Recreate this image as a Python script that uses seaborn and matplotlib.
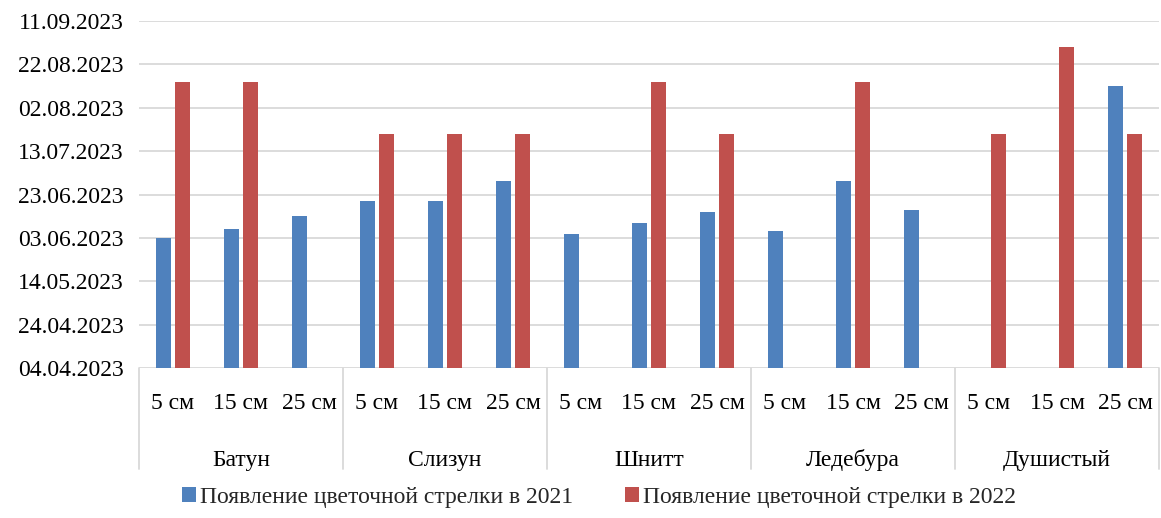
import pandas as pd
import numpy as np
import matplotlib
matplotlib.use('Agg')
import matplotlib.pyplot as plt
import matplotlib.dates as mdates
from matplotlib.patches import Patch
import seaborn as sns

# ================================
# Data
# ================================
groups = ['Батун', 'Слизун', 'Шнитт', 'Ледебура', 'Душистый']
depths = ['5 см', '15 см', '25 см']

series_names = ['Появление цветочной стрелки в 2021', 'Появление цветочной стрелки в 2022']

# dates of flower stalk appearance, one per group x depth (None = no data)
dates_2021 = ['2023-06-03', '2023-06-07', '2023-06-13',
              '2023-06-20', '2023-06-20', '2023-06-29',
              '2023-06-05', '2023-06-10', '2023-06-15',
              '2023-06-06', '2023-06-29', '2023-06-16',
              None, None, '2023-08-12']
dates_2022 = ['2023-08-14', '2023-08-14', None,
              '2023-07-21', '2023-07-21', '2023-07-21',
              None, '2023-08-14', '2023-07-21',
              None, '2023-08-14', None,
              '2023-07-21', '2023-08-30', '2023-07-21']

ytick_dates = ['2023-04-04', '2023-04-24', '2023-05-14', '2023-06-03', '2023-06-23',
               '2023-07-13', '2023-08-02', '2023-08-22', '2023-09-11']

colors = ['#4F81BD', '#C0504D']

# ================================
# Long table
# ================================
cats = [f'{g}|{d}' for g in groups for d in depths]
rows = []
for name, vals in zip(series_names, [dates_2021, dates_2022]):
    for c, v in zip(cats, vals):
        num = mdates.date2num(pd.Timestamp(v)) if v else np.nan
        rows.append({'cat': c, 'series': name, 'date': num})
df = pd.DataFrame(rows)

# ================================
# Plot
# ================================
sns.set_theme(style='white')
plt.rcParams['font.family'] = ['Liberation Serif', 'DejaVu Serif']

fig = plt.figure(figsize=(11.61, 5.18), dpi=100)
ax = fig.add_axes([0.1197, 0.289, 0.8786, 0.671])

sns.barplot(data=df, x='cat', y='date', hue='series', order=cats,
            hue_order=series_names, palette=colors, saturation=1,
            width=0.55, gap=0.2, errorbar=None, linewidth=0, ax=ax, legend=False)

yt = [mdates.date2num(pd.Timestamp(d)) for d in ytick_dates]
ax.set_ylim(yt[0], yt[-1])
ax.set_yticks(yt)
ax.yaxis.set_major_formatter(mdates.DateFormatter('%d.%m.%Y'))
ax.yaxis.grid(True, color='#d9d9d9', linewidth=1.3)
ax.set_axisbelow(True)
ax.tick_params(axis='y', length=0, pad=11, labelsize=17, colors='black')
ax.set_xlim(-0.5, len(cats) - 0.5)
ax.set_xticks(range(len(cats)))
ax.set_xticklabels([d for g in groups for d in depths])
ax.tick_params(axis='x', length=0, pad=18, labelsize=17, colors='black')
ax.set_xlabel('')
ax.set_ylabel('')
for s in ax.spines.values():
    s.set_visible(False)

# group labels and separators below the axis
trans = ax.get_xaxis_transform()
for i, g in enumerate(groups):
    ax.text(i * 3 + 1, -0.264, g, transform=trans, ha='center', va='center',
            fontsize=17, color='black')
for i in range(len(groups) + 1):
    ax.plot([i * 3 - 0.5, i * 3 - 0.5], [0, -0.29], transform=trans,
            color='#d9d9d9', linewidth=1.3, clip_on=False)

handles = [Patch(facecolor=c, edgecolor='none') for c in colors]
fig.legend(handles, series_names, loc='center', bbox_to_anchor=(0.516, 0.04),
           ncol=2, frameon=False, fontsize=17, handlelength=0.58, handleheight=0.58,
           handletextpad=0.18, columnspacing=2.2)

fig.savefig('out.png', dpi=100)
